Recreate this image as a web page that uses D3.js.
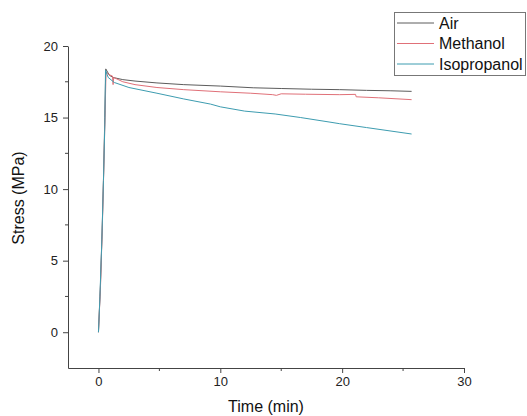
<!DOCTYPE html>
<html>
<head>
  <meta charset="utf-8">
  <style>
    body { margin: 0; background: #fff; }
    svg text { font-family: "Liberation Sans", Arial, sans-serif; }
  </style>
  <title>Stress vs Time</title>
</head>
<body>
  <script src="https://cdn.jsdelivr.net/npm/d3@7/dist/d3.min.js"></script>
  <script>
    // series names and colours
    var seriesNames = ["Air", "Methanol", "Isopropanol"];
    var seriesColors = ["#5c5c5c", "#e07078", "#3d9cb0"];

    // values (time in min, stress in MPa)
    var airTime   = [0, 0.15, 0.3, 0.42, 0.52, 0.6, 0.9, 1.2, 2, 3, 4.8, 7, 10, 12.7, 15, 17.5, 19.8, 22, 24, 25.7];
    var airStress = [0, 3, 7, 11, 15, 18.4, 17.95, 17.8, 17.65, 17.55, 17.42, 17.3, 17.2, 17.08, 17.03, 16.98, 16.95, 16.9, 16.87, 16.83];

    var methTime   = [0, 0.18, 0.32, 0.44, 0.55, 0.62, 0.85, 1.15, 1.2, 1.25, 2, 3, 4.8, 7, 10, 12.5, 14.3, 14.6, 15, 17, 19.8, 21.1, 21.15, 23, 25.7];
    var methStress = [0, 3.5, 7.5, 11.5, 15.5, 18.2, 18.0, 17.9, 17.3, 17.8, 17.5, 17.3, 17.1, 16.95, 16.8, 16.7, 16.6, 16.55, 16.66, 16.63, 16.6, 16.62, 16.45, 16.38, 16.25];

    var isoTime   = [0, 0.12, 0.28, 0.41, 0.52, 0.58, 0.8, 1.3, 2.5, 4.8, 7, 9.2, 10, 12, 14.5, 16.6, 19, 19.8, 22, 25.7];
    var isoStress = [0, 2.5, 6.5, 10.6, 14.5, 18.3, 17.8, 17.45, 17.1, 16.7, 16.3, 15.94, 15.75, 15.45, 15.25, 15.0, 14.68, 14.57, 14.3, 13.85];

    var xTicks = [0, 10, 20, 30];
    var xMinor = [5, 15, 25];
    var yTicks = [0, 5, 10, 15, 20];
    var yMinor = [2.5, 7.5, 12.5, 17.5];

    var width = 527, height = 416;
    var plot = {left: 68, right: 464, top: 46, bottom: 368};

    var x = d3.scaleLinear().domain([-2.5, 30]).range([plot.left, plot.right]);
    var y = d3.scaleLinear().domain([-2.5, 20]).range([plot.bottom, plot.top]);

    var svg = d3.select("body").append("svg")
      .attr("width", width)
      .attr("height", height);

    var series = [
      {name: seriesNames[0], color: seriesColors[0], t: airTime, s: airStress},
      {name: seriesNames[1], color: seriesColors[1], t: methTime, s: methStress},
      {name: seriesNames[2], color: seriesColors[2], t: isoTime, s: isoStress}
    ];

    var line = d3.line()
      .x(function (d) { return x(d[0]); })
      .y(function (d) { return y(d[1]); });

    svg.selectAll("path.series")
      .data(series)
      .enter()
      .append("path")
      .attr("class", "series")
      .attr("fill", "none")
      .attr("stroke", function (d) { return d.color; })
      .attr("stroke-width", 1)
      .attr("d", function (d) { return line(d.t.map(function (t, i) { return [t, d.s[i]]; })); });

    // axes
    var xAxis = svg.append("g")
      .attr("transform", "translate(0," + plot.bottom + ")")
      .call(d3.axisBottom(x).tickValues(xTicks).tickSize(5).tickSizeOuter(0).tickPadding(4));
    xAxis.append("g").selectAll("line")
      .data(xMinor).enter().append("line")
      .attr("x1", function (d) { return x(d); }).attr("x2", function (d) { return x(d); })
      .attr("y1", 0).attr("y2", 3)
      .attr("stroke", "#444");

    var yAxis = svg.append("g")
      .attr("transform", "translate(" + plot.left + ",0)")
      .call(d3.axisLeft(y).tickValues(yTicks).tickSize(5).tickSizeOuter(0).tickPadding(5));
    yAxis.append("g").selectAll("line")
      .data(yMinor).enter().append("line")
      .attr("y1", function (d) { return y(d); }).attr("y2", function (d) { return y(d); })
      .attr("x1", 0).attr("x2", -3)
      .attr("stroke", "#444");

    svg.selectAll(".domain, .tick line").attr("stroke", "#444");
    svg.selectAll(".tick text")
      .attr("font-size", 13)
      .attr("fill", "#222")
      .style("font-family", "'Liberation Sans', Arial, sans-serif");

    // axis titles
    svg.append("text")
      .attr("x", (plot.left + plot.right) / 2)
      .attr("y", 412)
      .attr("text-anchor", "middle")
      .attr("font-size", 16)
      .attr("fill", "#111")
      .text("Time (min)");

    svg.append("text")
      .attr("transform", "translate(24,198) rotate(-90)")
      .attr("text-anchor", "middle")
      .attr("font-size", 16)
      .attr("fill", "#111")
      .text("Stress (MPa)");

    // legend
    var legend = svg.append("g");
    legend.append("rect")
      .attr("x", 394.5).attr("y", 12.5)
      .attr("width", 131).attr("height", 63)
      .attr("fill", "#fff")
      .attr("stroke", "#777");

    var rows = legend.selectAll("g.row")
      .data(series)
      .enter()
      .append("g")
      .attr("class", "row")
      .attr("transform", function (d, i) { return "translate(0," + (23 + i * 20.5) + ")"; });

    rows.append("line")
      .attr("x1", 397).attr("x2", 434)
      .attr("y1", 0).attr("y2", 0)
      .attr("stroke", function (d) { return d.color; });

    rows.append("text")
      .attr("x", 439)
      .attr("y", 5.5)
      .attr("font-size", 16)
      .attr("fill", "#111")
      .text(function (d) { return d.name; });
  </script>
</body>
</html>
